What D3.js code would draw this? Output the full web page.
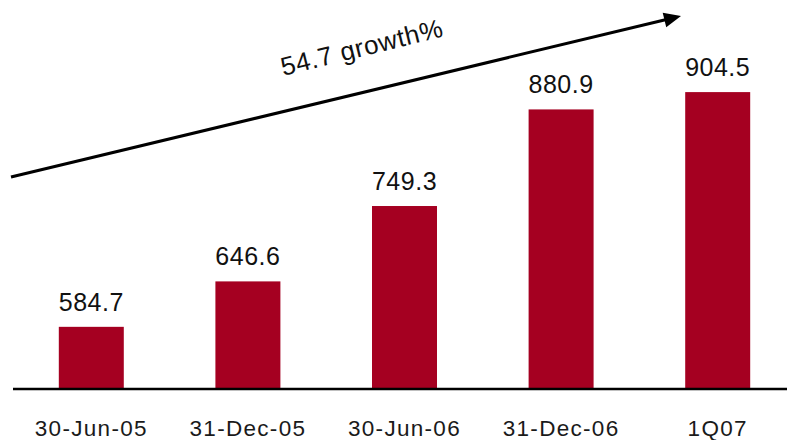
<!DOCTYPE html>
<html>
<head>
<meta charset="utf-8">
<script src="https://cdn.jsdelivr.net/npm/d3@7"></script>
<style>
  html, body { margin: 0; padding: 0; background: #fff; }
  svg { display: block; }
</style>
</head>
<body>
<svg id="chart" width="787" height="440"></svg>
<script>
const categories = ["30-Jun-05", "31-Dec-05", "30-Jun-06", "31-Dec-06", "1Q07"];
const values = [584.7, 646.6, 749.3, 880.9, 904.5];
const valueLabels = ["584.7", "646.6", "749.3", "880.9", "904.5"];
const growthLabel = "54.7 growth%";

const W = 787, H = 440;
const svg = d3.select("#chart");
const font = "'Liberation Sans', Arial, sans-serif";

const x = d3.scaleBand()
  .domain(categories)
  .range([13, 796])
  .paddingInner(0.585)
  .paddingOuter(0.2925);

const y = d3.scaleLinear()
  .domain([500, 1000])
  .range([389, 22]);

const barColor = "#a50021";

// bars
svg.append("g").selectAll("rect")
  .data(values)
  .join("rect")
  .attr("x", (d, i) => x(categories[i]))
  .attr("y", d => y(d))
  .attr("width", x.bandwidth())
  .attr("height", d => y(500) - y(d))
  .attr("fill", barColor);

// value labels
svg.append("g").selectAll("text")
  .data(values)
  .join("text")
  .attr("x", (d, i) => x(categories[i]) + x.bandwidth() / 2)
  .attr("y", d => y(d) - 16)
  .attr("text-anchor", "middle")
  .attr("font-family", font)
  .attr("font-size", 25)
  .attr("font-weight", "normal")
  .attr("letter-spacing", 0.5)
  .attr("fill", "#111")
  .text((d, i) => valueLabels[i]);

// baseline axis
const axis = d3.axisBottom(x).tickSize(0).tickPadding(0);
const gAxis = svg.append("g")
  .attr("transform", `translate(0,${y(500)})`)
  .call(axis);
gAxis.select(".domain").remove();
gAxis.append("line")
  .attr("x1", 13).attr("x2", W)
  .attr("y1", 0).attr("y2", 0)
  .attr("stroke", "#000").attr("stroke-width", 2.4);
gAxis.selectAll(".tick text")
  .attr("y", 47)
  .attr("dy", 0)
  .attr("font-family", font)
  .attr("font-size", 22.5)
  .attr("font-weight", "normal")
  .attr("letter-spacing", 1.3)
  .attr("fill", "#1a1a1a");

// growth arrow annotation
const arrowStart = [11, 177], arrowTip = [681, 16];
const ang = Math.atan2(arrowTip[1] - arrowStart[1], arrowTip[0] - arrowStart[0]);
const headLen = 17, headHalf = 7.5;
const baseX = arrowTip[0] - headLen * Math.cos(ang);
const baseY = arrowTip[1] - headLen * Math.sin(ang);
svg.append("line")
  .attr("x1", arrowStart[0]).attr("y1", arrowStart[1])
  .attr("x2", baseX + 2 * Math.cos(ang)).attr("y2", baseY + 2 * Math.sin(ang))
  .attr("stroke", "#000").attr("stroke-width", 3);
const nx = -Math.sin(ang), ny = Math.cos(ang);
svg.append("path")
  .attr("d", d3.line()([
    arrowTip,
    [baseX + nx * headHalf, baseY + ny * headHalf],
    [baseX - nx * headHalf, baseY - ny * headHalf]
  ]) + "Z")
  .attr("fill", "#000");

svg.append("text")
  .attr("transform", `translate(364,56) rotate(${ang * 180 / Math.PI - 0.4})`)
  .attr("text-anchor", "middle")
  .attr("font-family", font)
  .attr("font-size", 26)
  .attr("font-weight", "normal")
  .attr("letter-spacing", 0.6)
  .attr("fill", "#111")
  .text(growthLabel);
</script>
</body>
</html>
